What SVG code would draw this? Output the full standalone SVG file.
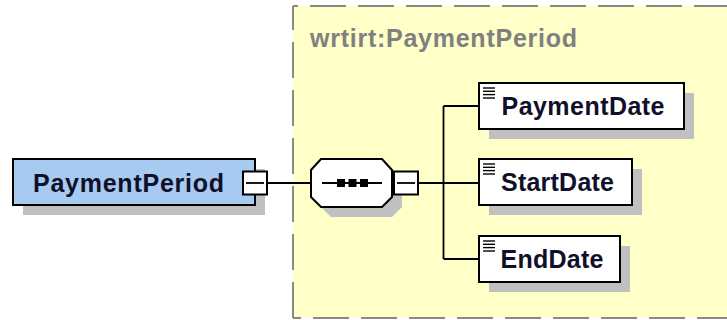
<svg xmlns="http://www.w3.org/2000/svg" width="727" height="320" viewBox="0 0 727 320">
<style>
.shadow{fill:#c0c0c0;stroke:none}
.box{fill:#ffffff;stroke:#000;stroke-width:2}
.gbox{fill:#a6caf0;stroke:#000;stroke-width:2}
.lbl{font-family:"Liberation Sans",Arial,sans-serif;font-weight:bold;font-size:25px;fill:#10102a}
.title{font-family:"Liberation Sans",Arial,sans-serif;font-weight:bold;font-size:25px;fill:#808080}
.dash{stroke:#888;stroke-width:2;fill:none;stroke-dasharray:36 12}
.ln{stroke:#000;stroke-width:1.8;fill:none}
.icon{stroke:#000;stroke-width:1.4}
</style>
<rect x="0" y="0" width="727" height="320" fill="#ffffff"/>
<g id="type-region">
<rect x="293" y="6" width="440" height="312" fill="#ffffc8"/>
<line class="dash" x1="293" y1="6" x2="727" y2="6" stroke-dashoffset="31"/>
<line class="dash" x1="293" y1="318" x2="293" y2="6"/>
<line class="dash" x1="293" y1="318" x2="727" y2="318" stroke-dashoffset="28"/>
<text class="title" x="310" y="47" textLength="267" lengthAdjust="spacing">wrtirt:PaymentPeriod</text>
</g>
<g id="connectors">
<line class="ln" x1="267" y1="183" x2="311" y2="183"/>
<line class="ln" x1="418" y1="183" x2="479" y2="183"/>
<line class="ln" x1="443.5" y1="106" x2="443.5" y2="259"/>
<line class="ln" x1="443.5" y1="106" x2="479" y2="106"/>
<line class="ln" x1="443.5" y1="259" x2="479" y2="259"/>
</g>
<g id="node-PaymentPeriod">
<rect class="shadow" x="23" y="169" width="242" height="46"/>
<rect class="gbox" x="13" y="159" width="242" height="46"/>
<text class="lbl" x="33" y="192" textLength="191" lengthAdjust="spacing">PaymentPeriod</text>
<rect class="box" x="243" y="171.5" width="24" height="23"/>
<line class="ln" x1="246" y1="183" x2="264" y2="183"/>
</g>
<g id="node-sequence">
<polygon class="shadow" points="331,169 392,169 402,180 402,207 392,217 331,217 321,207 321,180"/>
<polygon class="box" points="321,159 382,159 392,170 392,197 382,207 321,207 311,197 311,170"/>
<line class="ln" x1="322" y1="183" x2="382" y2="183"/>
<rect x="337" y="179" width="8" height="8" fill="#000"/>
<rect x="348.5" y="179" width="8" height="8" fill="#000"/>
<rect x="360" y="179" width="8" height="8" fill="#000"/>
<rect class="box" x="394" y="171.5" width="24" height="23"/>
<line class="ln" x1="397" y1="183" x2="415" y2="183"/>
</g>
<g id="node-PaymentDate">
<rect class="shadow" x="489" y="93" width="205" height="46"/>
<rect class="box" x="479" y="83" width="205" height="46"/>
<g class="icon"><line x1="483" y1="88" x2="495" y2="88"/><line x1="483" y1="91.3" x2="495" y2="91.3"/><line x1="483" y1="94.6" x2="495" y2="94.6"/><line x1="483" y1="98" x2="495" y2="98"/></g>
<text class="lbl" x="501.5" y="115" textLength="163" lengthAdjust="spacing">PaymentDate</text>
</g>
<g id="node-StartDate">
<rect class="shadow" x="489" y="169" width="153" height="46"/>
<rect class="box" x="479" y="159" width="153" height="46"/>
<g class="icon"><line x1="483" y1="164" x2="495" y2="164"/><line x1="483" y1="167.3" x2="495" y2="167.3"/><line x1="483" y1="170.6" x2="495" y2="170.6"/><line x1="483" y1="174" x2="495" y2="174"/></g>
<text class="lbl" x="501" y="191" textLength="113" lengthAdjust="spacing">StartDate</text>
</g>
<g id="node-EndDate">
<rect class="shadow" x="489" y="246" width="141" height="46"/>
<rect class="box" x="479" y="236" width="141" height="46"/>
<g class="icon"><line x1="483" y1="241" x2="495" y2="241"/><line x1="483" y1="244.3" x2="495" y2="244.3"/><line x1="483" y1="247.6" x2="495" y2="247.6"/><line x1="483" y1="251" x2="495" y2="251"/></g>
<text class="lbl" x="500.5" y="267.5" textLength="103" lengthAdjust="spacing">EndDate</text>
</g>
</svg>
